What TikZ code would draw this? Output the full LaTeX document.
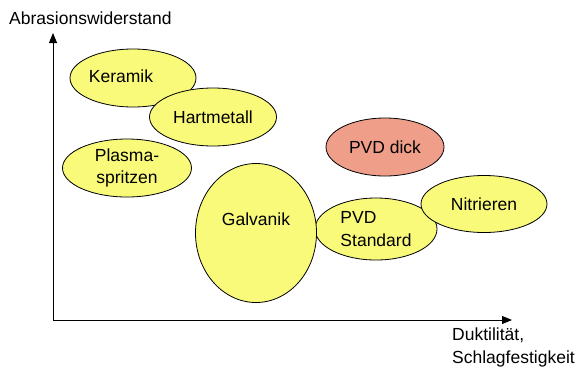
\documentclass[tikz,border=0pt]{standalone}
\usepackage{fontspec}
\setmainfont{Liberation Sans}
\usetikzlibrary{shapes,arrows.meta,positioning}
\definecolor{blobyellow}{RGB}{249,249,122}
\definecolor{blobsalmon}{RGB}{239,158,138}

\begin{document}
\begin{tikzpicture}[x=1pt, y=-1pt, font=\fontsize{17.5}{22.5}\selectfont,
  blob/.style={draw, ellipse, fill=blobyellow, line width=0.8pt, inner sep=0pt},
  axis/.style={line width=0.9pt, -{Triangle[length=10pt, width=8pt]}}]
\useasboundingbox (0,0) rectangle (577,370);
% axes
\coordinate (orig) at (53,320);
\coordinate (ytop) at (53,33);
\coordinate (xend) at (512,320);
\draw[axis] (orig) -- (ytop);
\draw[axis] (orig) -- (xend);
\node[anchor=west, inner sep=0pt] (ylab) at (9,18) {Abrasionswiderstand};
\node[anchor=north west, inner sep=0pt, align=left] (xlab) at (452,328) {Duktilität,\\Schlagfestigkeit};
% coatings
\node[blob, minimum width=126pt, minimum height=58pt, label={[xshift=-12pt, yshift=2pt]center:Keramik}] (keramik) at (133,78) {};
\node[blob, minimum width=127pt, minimum height=58pt] (hart) at (213,117) {Hartmetall};
\node[blob, minimum width=129pt, minimum height=58pt, align=center] (plasma) at (127,168) {Plasma-\\spritzen};
\node[blob, fill=blobsalmon, minimum width=118pt, minimum height=58pt] (pvddick) at (385,147) {PVD dick};
\node[blob, minimum width=122pt, minimum height=62pt, align=left] (pvdstd) at (376,229) {PVD\\Standard};
\node[blob, minimum width=121pt, minimum height=139pt, label={[yshift=14pt]center:Galvanik}] (galv) at (256,233) {};
\node[blob, minimum width=126pt, minimum height=57pt] (nitr) at (484,204) {Nitrieren};
\end{tikzpicture}
\end{document}
